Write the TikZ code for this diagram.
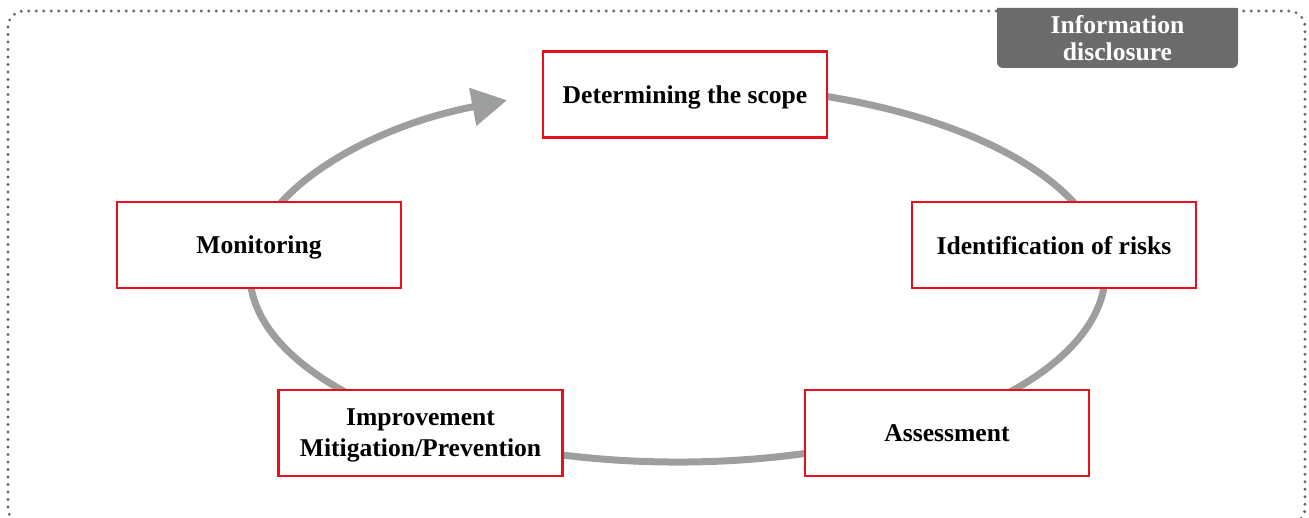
\documentclass[tikz,border=0pt]{standalone}
\usepackage{fontspec}
\setmainfont{Liberation Serif}
\usetikzlibrary{arrows.meta}

\definecolor{ringgray}{HTML}{9D9F9E}
\definecolor{boxred}{HTML}{E60F1E}
\definecolor{tabgray}{HTML}{6B6B6B}

\begin{document}
\begin{tikzpicture}[x=0.5pt, y=-0.5pt,
  riskbox/.style={draw=boxred, line width=1.25pt, fill=white, minimum width=142pt,
    minimum height=43pt, inner sep=0pt, align=center, text depth=0pt,
    font=\fontsize{12.8}{15.5}\selectfont\bfseries},
  ringline/.style={draw=ringgray, line width=3.5pt},
  framedots/.style={draw=black!60, line width=1.6pt, line cap=round,
    dash pattern=on 0pt off 3.75pt, rounded corners=8pt}]
\useasboundingbox (0,0) rectangle (1309,518);
\draw[framedots] (8,11) rectangle (1305,524);
\fill[tabgray] (997,8) [rounded corners=3pt] -- (997,68) -- (1238,68) [sharp corners] -- (1238,8) -- cycle;
\node[text=white, align=center, inner sep=0pt,
  font=\fontsize{12.8}{13.5}\selectfont\bfseries] (disclosure) at (1117.5,38) {Information\\disclosure};
\coordinate (ringc) at (677.5,273.3);
\draw[ringline, -{Triangle[length=17.5pt, width=18.5pt]}] (ringc) ++(285:427.5 and 188.7)
  arc[start angle=285, end angle=606.5, x radius=427.5, y radius=188.7];
\node[riskbox] (scope) at (685,94.5) {Determining the scope};
\node[riskbox] (risks) at (1054,245) {Identification of risks};
\node[riskbox] (assess) at (947,433) {Assessment};
\node[riskbox] (improve) at (420.5,433) {Improvement\\Mitigation/Prevention};
\node[riskbox] (monitor) at (259,245) {Monitoring};
\end{tikzpicture}
\end{document}
